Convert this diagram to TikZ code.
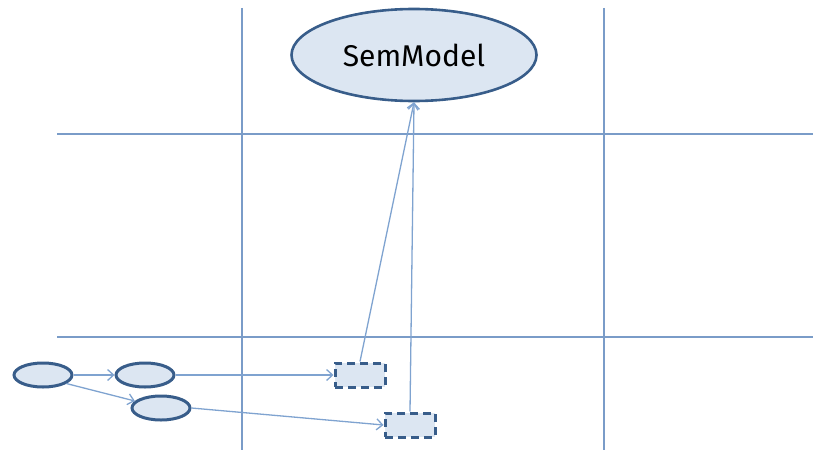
\documentclass[tikz,border=0pt]{standalone}
\usepackage{fontspec}
\setmainfont{Fira Sans}
\usetikzlibrary{arrows.meta,shapes.geometric}
\definecolor{gridc}{HTML}{7A9CC8}
\definecolor{fillc}{HTML}{DCE6F2}
\definecolor{borderc}{HTML}{385D8A}
\definecolor{arrc}{HTML}{7FA3D0}
\tikzset{
  gridline/.style={draw=gridc, line width=1.1pt},
  small/.style={ellipse, draw=borderc, fill=fillc, line width=3pt, minimum width=58pt, minimum height=24pt, inner sep=0pt},
  big/.style={ellipse, draw=borderc, fill=fillc, line width=2.6pt, minimum width=245pt, minimum height=92pt, inner sep=0pt, font=\fontsize{30}{33}\selectfont},
  dbox/.style={rectangle, draw=borderc, fill=fillc, line width=3pt, dash pattern=on 8pt off 5pt, minimum width=50pt, minimum height=24pt, inner sep=0pt},
  conn/.style={draw=arrc, line width=1.3pt, -{Straight Barb[length=6pt,width=11pt]}}
}
\begin{document}
\begin{tikzpicture}[x=1pt,y=-1pt]
\useasboundingbox (0,0) rectangle (813,452);
\draw[gridline] (242,8) -- (242,450);
\draw[gridline] (604,8) -- (604,450);
\draw[gridline] (57,134) -- (813,134);
\draw[gridline] (57,337) -- (813,337);
\node[big] (sem) at (414,55) {SemModel};
\node[small] (e1) at (43,375) {};
\node[small] (e2) at (145,375) {};
\node[small] (e3) at (161,408) {};
\node[dbox] (r1) at (360,375) {};
\node[dbox] (r2) at (410,425) {};
\draw[conn] (e1) -- (e2);
\draw[conn] (e1.-20) -- (e3.165);
\draw[conn] (e2.east) -- (r1.west);
\draw[conn] (e3.east) -- (r2.west);
\draw[conn] (r1.north) -- (sem.south);
\draw[conn] (r2.north) -- (sem.south);
\end{tikzpicture}
\end{document}
